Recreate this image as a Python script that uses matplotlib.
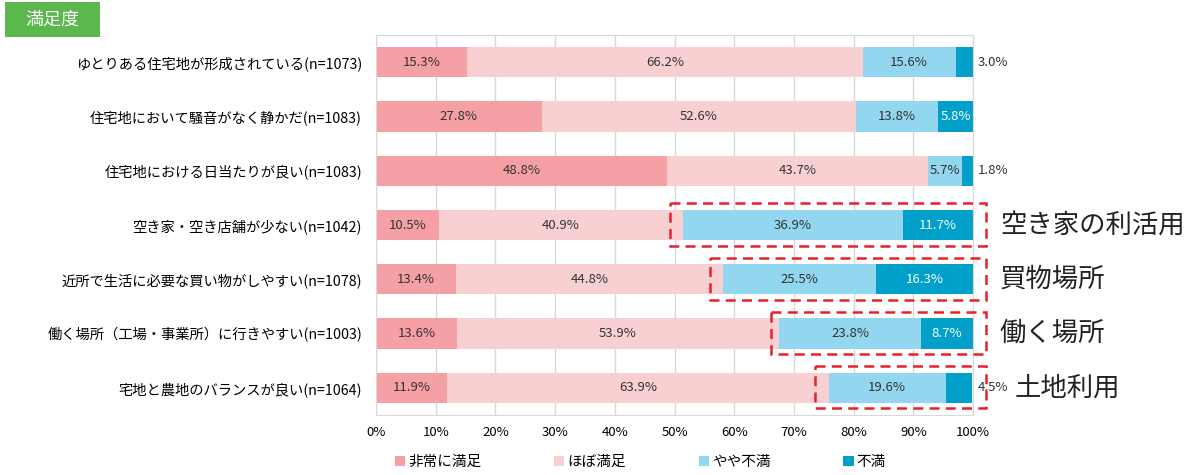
import matplotlib.pyplot as plt
import numpy as np
from matplotlib.patches import Rectangle

plt.rcParams['font.family'] = ['Noto Sans CJK JP', 'DejaVu Sans']

# data
items = ['ゆとりある住宅地が形成されている(n=1073)',
         '住宅地において騒音がなく静かだ(n=1083)',
         '住宅地における日当たりが良い(n=1083)',
         '空き家・空き店舗が少ない(n=1042)',
         '近所で生活に必要な買い物がしやすい(n=1078)',
         '働く場所（工場・事業所）に行きやすい(n=1003)',
         '宅地と農地のバランスが良い(n=1064)']
very_satisfied = [15.3, 27.8, 48.8, 10.5, 13.4, 13.6, 11.9]
mostly_satisfied = [66.2, 52.6, 43.7, 40.9, 44.8, 53.9, 63.9]
somewhat_unsat = [15.6, 13.8, 5.7, 36.9, 25.5, 23.8, 19.6]
unsatisfied = [3.0, 5.8, 1.8, 11.7, 16.3, 8.7, 4.5]
series_names = ['非常に満足', 'ほぼ満足', 'やや不満', '不満']
colors = ['#F4A0A5', '#F9D0D2', '#93D6EF', '#00A0CA']

# dashed highlight boxes: row, left edge (%), note text
box_rows = [3, 4, 5, 6]
box_left = [49.2, 55.9, 66.2, 73.5]
box_notes = ['空き家の利活用', '買物場所', '働く場所', '土地利用']

fig = plt.figure(figsize=(11.97, 4.75), dpi=100)
ax = fig.add_axes([0.3141, 0.1263, 0.4988, 0.80])

series = [very_satisfied, mostly_satisfied, somewhat_unsat, unsatisfied]
y = np.arange(len(items))
left = np.zeros(len(items))
for k, vals in enumerate(series):
    vals = np.array(vals)
    ax.barh(y, vals, left=left, height=0.56, color=colors[k],
            label=series_names[k], zorder=2)
    for i, v in enumerate(vals):
        if v < 5 and k == 3:
            ax.text(100.8, i, f'{v:.1f}%', ha='left', va='center',
                    fontsize=9.5, color='#333333')
        else:
            ax.text(left[i] + v / 2, i, f'{v:.1f}%', ha='center', va='center',
                    fontsize=9.5, color='white' if k == 3 else '#333333', zorder=3)
    left += vals

ax.set_xlim(0, 100)
ax.set_ylim(6.5, -0.5)
ax.set_xticks(np.arange(0, 101, 10))
ax.set_xticklabels([f'{t}%' for t in range(0, 101, 10)], fontsize=9.5)
ax.set_yticks(y)
ax.set_yticklabels(items, fontsize=10.3)
ax.tick_params(length=0, pad=10)
ax.tick_params(axis='x', pad=8)
ax.grid(axis='x', color='#D9D9D9', lw=1, zorder=0)
for s in ax.spines.values():
    s.set_color('#D9D9D9')

for r, x0, note in zip(box_rows, box_left, box_notes):
    ax.add_patch(Rectangle((x0, r - 0.40), 102.2 - x0, 0.78, fill=False,
                           edgecolor='#E8202A', lw=1.8, ls=(0, (4, 2.5)),
                           clip_on=False, zorder=4))
    ax.text(104.5 if r != 6 else 107, r, note, ha='left', va='center',
            fontsize=19, color='#222222')

# title tag
fig.patches.append(Rectangle((0.0042, 0.9221), 0.0794, 0.0737,
                             transform=fig.transFigure, fc='#5BB84D', ec='none'))
fig.text(0.0439, 0.959, '満足度', ha='center', va='center', fontsize=13,
         color='white')

fig.legend(loc='lower center', bbox_to_anchor=(0.535, -0.015), ncol=4,
           frameon=False, fontsize=10.5, handlelength=0.7, handleheight=0.7,
           handletextpad=0.2, columnspacing=5)

fig.savefig('out.png', dpi=100)
